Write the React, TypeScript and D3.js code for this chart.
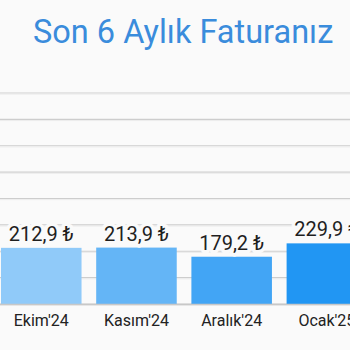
import React from "react";
import * as d3 from "d3";

const title = "Son 6 Aylık Faturanız";
const months = ["Ekim'24", "Kasım'24", "Aralık'24", "Ocak'25"];
const amounts = [212.9, 213.9, 179.2, 229.9];
const barColors = ["#90caf9", "#64b5f6", "#42a5f5", "#2196f3"];
const yTicks = [0, 100, 200, 300, 400, 500, 600, 700, 800];

const W = 350;
const H = 350;
const BG = "#fafafa";

const fmt = (v: number) => v.toFixed(1).replace(".", ",") + " ₺";

export default function App() {
  const y = d3.scaleLinear().domain([0, 800]).range([304, 93]);
  const x = d3
    .scaleBand<string>()
    .domain(months)
    .range([1, 1 + (4 - 0.154) * 95.2])
    .paddingInner(0.154)
    .paddingOuter(0);

  return (
    <svg
      width={W}
      height={H}
      style={{ position: "absolute", left: 0, top: 0, display: "block" }}
      fontFamily="Roboto, 'Noto Sans', sans-serif"
    >
      <rect x={0} y={0} width={W} height={H} fill={BG} />
      <text x={33} y={43} fontSize={32.5} fill="#3a8cdc">
        {title}
      </text>
      {yTicks.map((t) => (
        <g key={t}>
          <line x1={0} x2={W} y1={y(t)} y2={y(t)} stroke="#cdcdcd" strokeWidth={1.2} />
          <line x1={0} x2={W} y1={y(t) + 1.2} y2={y(t) + 1.2} stroke="#ececec" strokeWidth={1} />
        </g>
      ))}
      {months.map((m, i) => (
        <rect
          key={m}
          x={x(m)!}
          y={y(amounts[i])}
          width={x.bandwidth()}
          height={y(0) - y(amounts[i])}
          fill={barColors[i]}
        />
      ))}
      <line x1={0} x2={W} y1={y(0) + 0.5} y2={y(0) + 0.5} stroke="#c8c8c8" strokeWidth={1.5} />
      {months.map((m, i) => (
        <text
          key={"v" + m}
          x={x(m)! + x.bandwidth() / 2}
          y={y(amounts[i]) - 7}
          textAnchor="middle"
          fontSize={20}
          fill="#1f1f1f"
          stroke={BG}
          strokeWidth={7}
          paintOrder="stroke"
          strokeLinejoin="round"
        >
          {fmt(amounts[i])}
        </text>
      ))}
      {months.map((m) => (
        <text
          key={"l" + m}
          x={x(m)! + x.bandwidth() / 2}
          y={326}
          textAnchor="middle"
          fontSize={16}
          fill="#222"
        >
          {m}
        </text>
      ))}
    </svg>
  );
}
